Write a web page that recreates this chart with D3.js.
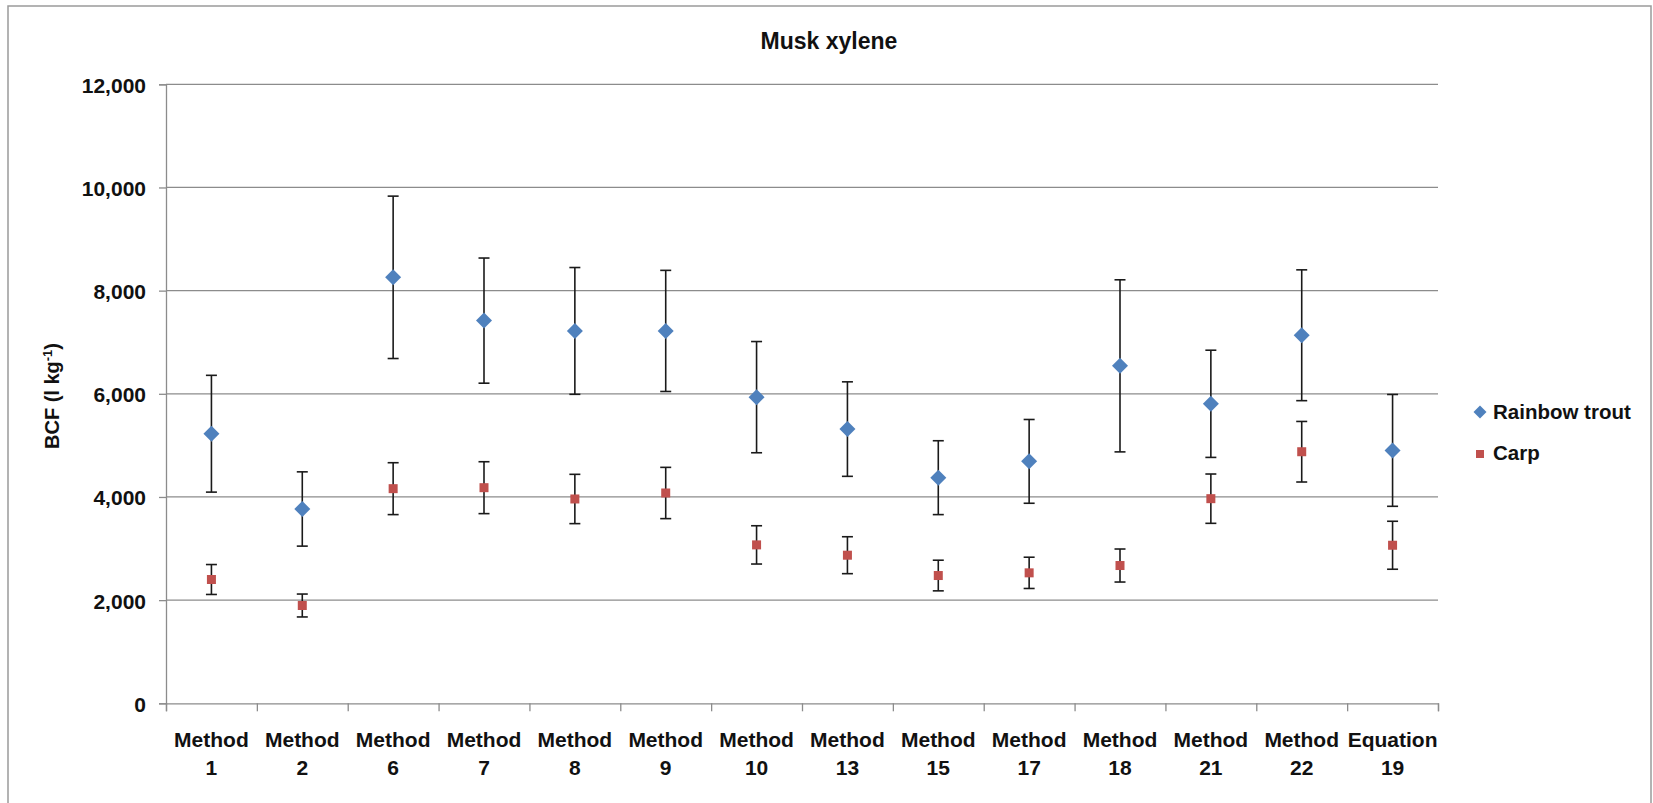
<!DOCTYPE html>
<html>
<head>
<meta charset="utf-8">
<script src="https://cdn.jsdelivr.net/npm/d3@7"></script>
<style>
  body { margin: 0; background: #fff; }
  svg { display: block; font-family: "Liberation Sans", Arial, sans-serif; }
</style>
</head>
<body>
<div id="chart"></div>
<script>
var W = 1653, H = 803;

// categories along the x axis (two lines each)
var categories = ["Method 1", "Method 2", "Method 6", "Method 7", "Method 8", "Method 9", "Method 10",
  "Method 13", "Method 15", "Method 17", "Method 18", "Method 21", "Method 22", "Equation 19"];

// Rainbow trout: BCF and error
var trout = [5226, 3767, 8258, 7419, 7219, 7219, 5935, 5316, 4374, 4690, 6542, 5806, 7135, 4903];
var troutErr = [1132, 720, 1574, 1213, 1229, 1174, 1078, 916, 716, 812, 1668, 1039, 1268, 1084];

// Carp: BCF and error
var carp = [2400, 1896, 4161, 4180, 3961, 4077, 3071, 2871, 2477, 2529, 2671, 3967, 4877, 3064];
var carpErr = [290, 222, 503, 503, 478, 497, 371, 358, 297, 303, 320, 478, 587, 465];

var yTicks = [0, 2000, 4000, 6000, 8000, 10000, 12000];
var seriesNames = ["Rainbow trout", "Carp"];

var blue = "#4F81BD", red = "#C0504D";
var gridColor = "#8c8c8c";

var plotLeft = 166, plotRight = 1438, plotTop = 84.3, plotBottom = 703.3;

var svg = d3.select("#chart").append("svg")
  .attr("width", W)
  .attr("height", H);

// chart area border
svg.append("rect")
  .attr("x", 8).attr("y", 6)
  .attr("width", 1643).attr("height", 805)
  .attr("fill", "#fff")
  .attr("stroke", "#9a9a9a")
  .attr("stroke-width", 1.5);

var x = d3.scaleBand().domain(categories).range([plotLeft, plotRight]);
var xb = d3.scaleLinear().domain([0, categories.length]).range([plotLeft, plotRight]);
var y = d3.scaleLinear().domain([0, 12000]).range([plotBottom, plotTop]);

// gridlines
svg.append("g")
  .selectAll("line")
  .data(yTicks.filter(function(d) { return d > 0; }))
  .enter()
  .append("line")
  .attr("x1", plotLeft).attr("x2", plotRight)
  .attr("y1", function(d) { return y(d); })
  .attr("y2", function(d) { return y(d); })
  .attr("stroke", gridColor)
  .attr("stroke-width", 1.3);

// y axis
var yAxis = svg.append("g")
  .attr("transform", "translate(" + plotLeft + ",0)")
  .call(d3.axisLeft(y).tickValues(yTicks).tickSize(7).tickPadding(13).tickFormat(d3.format(",")));
yAxis.select(".domain").attr("stroke", gridColor).attr("stroke-width", 1.3);
yAxis.selectAll(".tick line").attr("stroke", gridColor).attr("stroke-width", 1.3);
yAxis.selectAll(".tick text")
  .attr("font-size", "21px")
  .attr("font-weight", "bold")
  .attr("font-family", "Liberation Sans, Arial, sans-serif")
  .attr("fill", "#111")
  .attr("dy", "0.38em");

// x axis (ticks between categories)
var xAxis = svg.append("g")
  .attr("transform", "translate(0," + plotBottom + ")")
  .call(d3.axisBottom(xb).ticks(categories.length).tickSize(8).tickFormat(""));
xAxis.select(".domain").attr("stroke", gridColor).attr("stroke-width", 1.3);
xAxis.selectAll(".tick line").attr("stroke", gridColor).attr("stroke-width", 1.3);

// x labels, two lines
var xl = svg.append("g").selectAll("text")
  .data(categories)
  .enter()
  .append("text")
  .attr("text-anchor", "middle")
  .attr("font-size", "21px")
  .attr("font-weight", "bold")
  .attr("fill", "#111");
xl.append("tspan")
  .attr("x", function(d) { return x(d) + x.bandwidth() / 2; })
  .attr("y", 747)
  .text(function(d) { return d.split(" ")[0]; });
xl.append("tspan")
  .attr("x", function(d) { return x(d) + x.bandwidth() / 2; })
  .attr("y", 775)
  .text(function(d) { return d.split(" ")[1]; });

// error bars
function drawErrors(vals, errs) {
  var g = svg.append("g");
  var capW = 5.5;
  vals.forEach(function(v, i) {
    var cx = x(categories[i]) + x.bandwidth() / 2;
    var hi = y(v + errs[i]), lo = y(v - errs[i]);
    g.append("line").attr("x1", cx).attr("x2", cx).attr("y1", hi).attr("y2", lo);
    g.append("line").attr("x1", cx - capW).attr("x2", cx + capW).attr("y1", hi).attr("y2", hi);
    g.append("line").attr("x1", cx - capW).attr("x2", cx + capW).attr("y1", lo).attr("y2", lo);
  });
  g.selectAll("line").attr("stroke", "#1a1a1a").attr("stroke-width", 1.6);
}
drawErrors(trout, troutErr);
drawErrors(carp, carpErr);

// markers
svg.append("g").selectAll("path")
  .data(trout)
  .enter()
  .append("path")
  .attr("d", "M0,-8L8,0L0,8L-8,0Z")
  .attr("transform", function(d, i) {
    return "translate(" + (x(categories[i]) + x.bandwidth() / 2) + "," + y(d) + ")";
  })
  .attr("fill", blue);

svg.append("g").selectAll("rect")
  .data(carp)
  .enter()
  .append("rect")
  .attr("x", function(d, i) { return x(categories[i]) + x.bandwidth() / 2 - 4.5; })
  .attr("y", function(d) { return y(d) - 4.5; })
  .attr("width", 9)
  .attr("height", 9)
  .attr("fill", red);

// title
svg.append("text")
  .attr("x", 829)
  .attr("y", 49)
  .attr("text-anchor", "middle")
  .attr("font-size", "23px")
  .attr("font-weight", "bold")
  .attr("fill", "#111")
  .text("Musk xylene");

// y axis title
var yt = svg.append("text")
  .attr("transform", "translate(59,396) rotate(-90)")
  .attr("text-anchor", "middle")
  .attr("font-size", "20px")
  .attr("font-weight", "bold")
  .attr("fill", "#111");
yt.append("tspan").text("BCF (l kg");
yt.append("tspan").attr("dy", -7).attr("font-size", "13px").text("-1");
yt.append("tspan").attr("dy", 7).text(")");

// legend
var legend = svg.append("g").attr("transform", "translate(1480,412)");
legend.append("path")
  .attr("d", "M0,-6.5L6.5,0L0,6.5L-6.5,0Z")
  .attr("fill", blue);
legend.append("rect")
  .attr("x", -4).attr("y", 38).attr("width", 8).attr("height", 8)
  .attr("fill", red);
legend.selectAll("text")
  .data(seriesNames)
  .enter()
  .append("text")
  .attr("x", 13)
  .attr("y", function(d, i) { return 7 + i * 41; })
  .attr("font-size", "20.5px")
  .attr("font-weight", "bold")
  .attr("fill", "#111")
  .text(function(d) { return d; });
</script>
</body>
</html>
